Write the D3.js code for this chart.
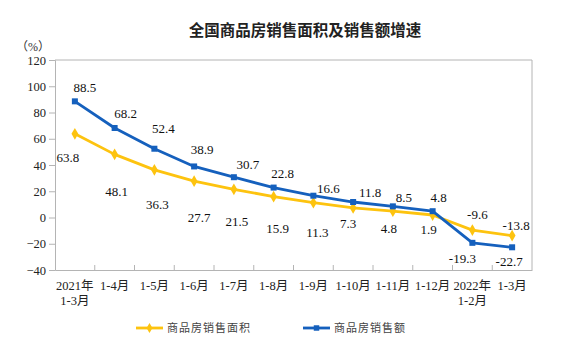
<!DOCTYPE html>
<html>
<head>
<meta charset="utf-8">
<script src="https://cdn.jsdelivr.net/npm/d3@7"></script>
<style>
  body { margin: 0; background: #fff; }
  text { font-family: "Liberation Serif", "Noto Sans CJK SC", serif; }
</style>
</head>
<body>
<div id="main"></div>
<script>
var ctx = {
    w: 561,
    h: 359,
    left: 55,
    right: 532,
    top: 60,
    bottom: 270,
};

// data
var categories = ["2021年\n1-3月", "1-4月", "1-5月", "1-6月", "1-7月", "1-8月",
    "1-9月", "1-10月", "1-11月", "1-12月", "2022年\n1-2月", "1-3月"];
var salesArea = [63.8, 48.1, 36.3, 27.7, 21.5, 15.9, 11.3, 7.3, 4.8, 1.9, -9.6, -13.8];
var salesAmount = [88.5, 68.2, 52.4, 38.9, 30.7, 22.8, 16.6, 11.8, 8.5, 4.8, -19.3, -22.7];
var yTicks = [-40, -20, 0, 20, 40, 60, 80, 100, 120];

// label nudges (px), placed by hand like the original
var areaLabelOffset = [[-7, 24], [2, 37], [3, 35], [5, 36], [3, 32], [4, 32],
    [4, 30], [-5, 16], [-4, 17], [-4, 14], [5, -16], [4, -10]];
var amountLabelOffset = [[10, -14], [11, -15], [9, -20], [8, -17], [14, -13], [9, -14],
    [15, -7], [17, -10], [11, -9], [6, -14], [-10, 16], [-3, 14]];

var blue = "#1560bd";
var yellow = "#fdc30f";
var grid = "#b4b4b4";

var svg = d3.select("#main").append("svg")
    .attr("width", ctx.w)
    .attr("height", ctx.h);

var x = d3.scaleBand()
    .domain(categories)
    .range([ctx.left, ctx.right]);

var y = d3.scaleLinear()
    .domain([-40, 120])
    .range([ctx.bottom, ctx.top]);

var cx = function (i) { return x(categories[i]) + x.bandwidth() / 2; };

// title
svg.append("text")
    .attr("x", 305)
    .attr("y", 36)
    .attr("text-anchor", "middle")
    .style("font-family", "'Noto Sans CJK SC', sans-serif")
    .style("font-size", "15.5px")
    .style("font-weight", "bold")
    .attr("fill", "#222")
    .text("全国商品房销售面积及销售额增速");

svg.append("text")
    .attr("x", 33)
    .attr("y", 51)
    .attr("text-anchor", "middle")
    .style("font-size", "12px")
    .attr("fill", "#333")
    .text("（%）");

// frame: top and right
svg.append("path")
    .attr("d", "M" + ctx.left + "," + ctx.top + "H" + ctx.right + "V" + ctx.bottom)
    .attr("fill", "none")
    .attr("stroke", grid)
    .attr("stroke-width", 1);

// y axis
var yAxis = svg.append("g")
    .attr("transform", "translate(" + ctx.left + ",0)")
    .call(d3.axisLeft(y).tickValues(yTicks).tickSize(6).tickPadding(3));
yAxis.select(".domain").attr("stroke", grid);
yAxis.selectAll(".tick line").attr("stroke", grid);
yAxis.selectAll("text")
    .style("font-family", "'Liberation Serif', serif")
    .style("font-size", "12.5px")
    .attr("fill", "#222");

// x axis
var xAxis = svg.append("g")
    .attr("transform", "translate(0," + ctx.bottom + ")")
    .call(d3.axisBottom(x).tickSize(0).tickFormat(""));
xAxis.select(".domain").attr("stroke", grid);

// inner ticks at category boundaries
svg.append("g")
    .selectAll("line")
    .data(categories.slice(1))
    .enter()
    .append("line")
    .attr("x1", function (d) { return x(d); })
    .attr("x2", function (d) { return x(d); })
    .attr("y1", ctx.bottom)
    .attr("y2", ctx.bottom - 5)
    .attr("stroke", grid);

// category labels
var catLabels = svg.append("g")
    .selectAll("text")
    .data(categories)
    .enter()
    .append("text")
    .attr("text-anchor", "middle")
    .style("font-size", "12.5px")
    .attr("fill", "#222");
catLabels.each(function (d, i) {
    var lines = d.split("\n");
    var t = d3.select(this);
    lines.forEach(function (l, k) {
        t.append("tspan")
            .attr("x", cx(i))
            .attr("y", 290 + k * 15)
            .text(l);
    });
});

var line = d3.line()
    .x(function (d, i) { return cx(i); })
    .y(function (d) { return y(d); });

// sales area (yellow, diamonds)
svg.append("path")
    .datum(salesArea)
    .attr("d", line)
    .attr("fill", "none")
    .attr("stroke", yellow)
    .attr("stroke-width", 2.8)
    .attr("stroke-linejoin", "round");

var diamond = d3.symbol().type(d3.symbolDiamond).size(40);

svg.append("g")
    .selectAll("path")
    .data(salesArea)
    .enter()
    .append("path")
    .attr("d", diamond)
    .attr("transform", function (d, i) { return "translate(" + cx(i) + "," + y(d) + ")"; })
    .attr("fill", yellow);

// sales amount (blue, squares)
svg.append("path")
    .datum(salesAmount)
    .attr("d", line)
    .attr("fill", "none")
    .attr("stroke", blue)
    .attr("stroke-width", 2.8)
    .attr("stroke-linejoin", "round");

svg.append("g")
    .selectAll("rect")
    .data(salesAmount)
    .enter()
    .append("rect")
    .attr("x", function (d, i) { return cx(i) - 3; })
    .attr("y", function (d) { return y(d) - 3; })
    .attr("width", 6)
    .attr("height", 6)
    .attr("fill", blue);

// value labels
var addLabels = function (values, offsets) {
    svg.append("g")
        .selectAll("text")
        .data(values)
        .enter()
        .append("text")
        .attr("x", function (d, i) { return cx(i) + offsets[i][0]; })
        .attr("y", function (d, i) { return y(d) + offsets[i][1]; })
        .attr("dy", "0.35em")
        .attr("text-anchor", "middle")
        .style("font-size", "13px")
        .attr("fill", "#111")
        .text(function (d) { return d.toFixed(1); });
};
addLabels(salesArea, areaLabelOffset);
addLabels(salesAmount, amountLabelOffset);

// legend
var legend = [
    { name: "商品房销售面积", color: yellow, x: 136, shape: "diamond" },
    { name: "商品房销售额", color: blue, x: 303, shape: "square" },
];
var lg = svg.append("g")
    .selectAll("g")
    .data(legend)
    .enter()
    .append("g")
    .attr("transform", function (d) { return "translate(" + d.x + ",328)"; });
lg.append("line")
    .attr("x1", 0)
    .attr("x2", 27)
    .attr("stroke", function (d) { return d.color; })
    .attr("stroke-width", 2.8);
lg.append("path")
    .attr("d", function (d) {
        return d.shape === "diamond"
            ? d3.symbol().type(d3.symbolDiamond).size(30)()
            : d3.symbol().type(d3.symbolSquare).size(30)();
    })
    .attr("transform", "translate(13.5,0)")
    .attr("fill", function (d) { return d.color; });
lg.append("text")
    .attr("x", 31)
    .attr("dy", "0.35em")
    .style("font-family", "'Noto Sans CJK SC', sans-serif")
    .style("font-size", "11px")
    .style("letter-spacing", "1px")
    .attr("fill", "#444")
    .text(function (d) { return d.name; });
</script>
</body>
</html>
